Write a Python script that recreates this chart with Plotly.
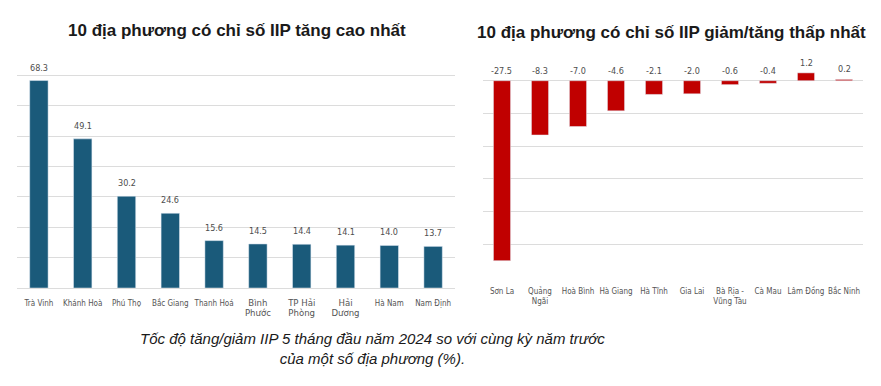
import plotly.graph_objects as go

# ---- data ----
top_categories = ["Trà Vinh", "Khánh Hoà", "Phú Thọ", "Bắc Giang", "Thanh Hoá",
                  "Bình<br>Phước", "TP Hải<br>Phòng", "Hải<br>Dương", "Hà Nam", "Nam Định"]
top_values = [68.3, 49.1, 30.2, 24.6, 15.6, 14.5, 14.4, 14.1, 14.0, 13.7]

low_categories = ["Sơn La", "Quảng<br>Ngãi", "Hoà Bình", "Hà Giang", "Hà Tĩnh",
                  "Gia Lai", "Bà Rịa -<br>Vũng Tàu", "Cà Mau", "Lâm Đồng", "Bắc Ninh"]
low_values = [-27.5, -8.3, -7.0, -4.6, -2.1, -2.0, -0.6, -0.4, 1.2, 0.2]

title_left = "10 địa phương có chỉ số IIP tăng cao nhất"
title_right = "10 địa phương có chỉ số IIP giảm/tăng thấp nhất"
caption = "Tốc độ tăng/giảm IIP 5 tháng đầu năm 2024 so với cùng kỳ năm trước<br>của một số địa phương (%)."

# page body has an 8px default margin: size/position the figure to compensate
OFF = 8
W, H = 881 - OFF, 386 - OFF


def px_x(p):
    return (p - OFF) / W


def px_y(p):
    return 1 - (p - OFF) / H


BLUE = "rgb(26,90,122)"
RED = "rgb(192,0,0)"
GRID = "#dcdcdc"
NARROW = "DejaVu Sans Condensed, sans-serif"
LABEL_FONT = dict(family=NARROW, size=9, color="#4d4d4d")
TICK_FONT = dict(family=NARROW, size=8, color="#555555")

# multi-line labels appear in a slightly larger font in the original
top_ticktext = [f'<span style="font-size:9.5px">{c}</span>' if "<br>" in c else c for c in top_categories]

fig = go.Figure()
fig.add_trace(go.Bar(x=top_categories, y=top_values, marker_color=BLUE, width=0.42,
                     xaxis="x", yaxis="y", hoverinfo="skip"))
fig.add_trace(go.Bar(x=low_categories, y=low_values, marker_color=RED, width=0.45,
                     xaxis="x2", yaxis="y2", hoverinfo="skip"))

annotations = []
for c, v in zip(top_categories, top_values):
    annotations.append(dict(x=c, y=v, xref="x", yref="y", text=f"{v:.1f}", showarrow=False,
                            yshift=13, font=LABEL_FONT))
for c, v in zip(low_categories, low_values):
    annotations.append(dict(x=c, y=max(v, 0), xref="x2", yref="y2", text=f"{v:.1f}", showarrow=False,
                            yshift=10, font=LABEL_FONT))

annotations.append(dict(x=px_x(237), y=px_y(31), xref="paper", yref="paper", text=f"<b>{title_left}</b>",
                        showarrow=False, xanchor="center", yanchor="middle",
                        font=dict(family="Liberation Sans, Arial, sans-serif", size=17, color="#1a1a1a")))
annotations.append(dict(x=px_x(671), y=px_y(32), xref="paper", yref="paper", text=f"<b>{title_right}</b>",
                        showarrow=False, xanchor="center", yanchor="middle",
                        font=dict(family="Liberation Sans, Arial, sans-serif", size=17, color="#1a1a1a")))
annotations.append(dict(x=px_x(372), y=px_y(348), xref="paper", yref="paper", text=f"<i>{caption}</i>",
                        showarrow=False, xanchor="center", yanchor="middle",
                        font=dict(family="Liberation Sans, Arial, sans-serif", size=15, color="#1a1a1a")))

fig.update_layout(
    width=W, height=H,
    margin=dict(l=0, r=0, t=0, b=0, autoexpand=False),
    paper_bgcolor="white", plot_bgcolor="white",
    showlegend=False,
    annotations=annotations,
    xaxis=dict(domain=[px_x(17), px_x(455)], showgrid=False, showline=False, zeroline=False,
               tickmode="array", tickvals=top_categories, ticktext=top_ticktext,
               tickfont=TICK_FONT, ticks="", tickangle=0, ticklabelstandoff=9, automargin=False,
               fixedrange=True),
    yaxis=dict(domain=[px_y(288), px_y(45)], range=[0, 80], dtick=10, showticklabels=False,
               showgrid=True, gridcolor=GRID, gridwidth=1, zeroline=True, zerolinecolor=GRID,
               zerolinewidth=1, showline=False, automargin=False),
    xaxis2=dict(domain=[px_x(483), px_x(863)], anchor="y2", showgrid=False, showline=False, zeroline=False,
                tickfont=TICK_FONT, ticks="", tickangle=0, ticklabelstandoff=8, automargin=False,
                fixedrange=True),
    yaxis2=dict(domain=[px_y(277), px_y(48)], anchor="x2", range=[-30, 5], dtick=5,
                showticklabels=False, showgrid=True, gridcolor=GRID, gridwidth=1,
                zeroline=True, zerolinecolor=GRID, zerolinewidth=1, showline=False, automargin=False),
)

fig.write_html("out.html")
